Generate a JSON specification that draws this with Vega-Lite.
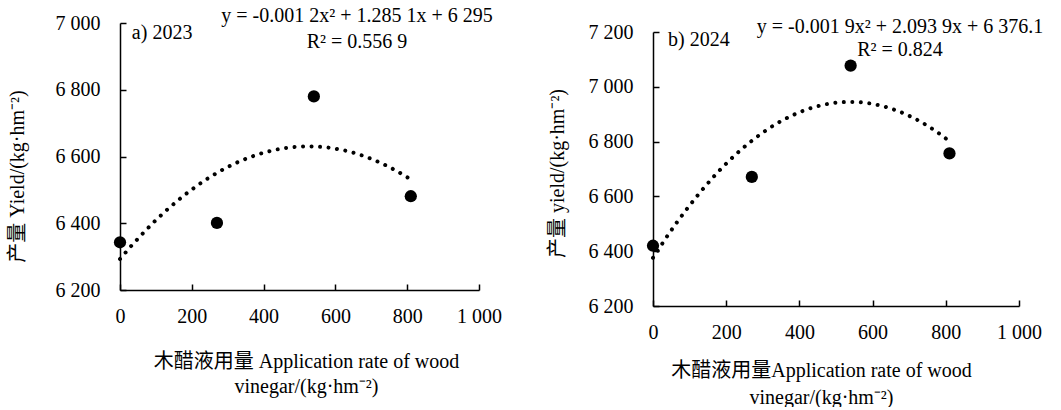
{
  "$schema": "https://vega.github.io/schema/vega-lite/v6.json",
  "background": "white",
  "padding": {"left": 7, "top": 5, "right": 0, "bottom": 0},
  "datasets": {
    "y2023": [
      {"rate": 0, "yield": 6343},
      {"rate": 270, "yield": 6401},
      {"rate": 540, "yield": 6780},
      {"rate": 810, "yield": 6481}
    ],
    "y2024": [
      {"rate": 0, "yield": 6420},
      {"rate": 270, "yield": 6671},
      {"rate": 540, "yield": 7077},
      {"rate": 810, "yield": 6757}
    ],
    "panelA": [{"label": "a) 2023"}],
    "eqA": [{"label": "y = -0.001 2x² + 1.285 1x + 6 295"}],
    "r2A": [{"label": "R² = 0.556 9"}],
    "panelB": [{"label": "b) 2024"}],
    "eqB": [{"label": "y = -0.001 9x² + 2.093 9x + 6 376.1"}],
    "r2B": [{"label": "R² = 0.824"}]
  },
  "config": {
    "view": {"stroke": null},
    "font": "Liberation Serif",
    "axis": {
      "grid": false,
      "domainColor": "black",
      "domainWidth": 1.5,
      "tickColor": "black",
      "tickWidth": 1.5,
      "tickSize": -6,
      "labelFlush": false,
      "labelFont": "Liberation Serif",
      "labelFontSize": 20,
      "labelColor": "black",
      "titleFont": "Liberation Serif, Noto Sans CJK SC",
      "titleFontSize": 20,
      "titleFontWeight": "normal",
      "titleColor": "black"
    }
  },
  "spacing": 45,
  "hconcat": [
    {
      "width": 359,
      "height": 267,
      "layer": [
        {
          "data": {"name": "y2023"},
          "transform": [{"regression": "yield", "on": "rate", "method": "poly", "order": 2, "extent": [0, 810]}],
          "mark": {"type": "line", "color": "black", "strokeWidth": 4, "strokeDash": [0.01, 8.5], "strokeCap": "round"},
          "encoding": {
            "x": {
              "field": "rate", "type": "quantitative",
              "scale": {"domain": [0, 1000], "nice": false, "zero": false},
              "axis": {
                "values": [0, 200, 400, 600, 800, 1000],
                "labelExpr": "replace(format(datum.value, ','), ',', ' ')",
                "labelPadding": 22,
                "title": ["木醋液用量  Application rate of wood", "vinegar/(kg·hm⁻²)"],
                "titlePadding": 25,
                "titleLineHeight": 25,
                "titleX": 186
              }
            },
            "y": {
              "field": "yield", "type": "quantitative",
              "scale": {"domain": [6200, 7000], "nice": false, "zero": false},
              "axis": {
                "values": [6200, 6400, 6600, 6800, 7000],
                "labelExpr": "replace(format(datum.value, ','), ',', ' ')",
                "labelPadding": 26,
                "title": "产量  Yield/(kg·hm⁻²)",
                "titlePadding": 28,
                "titleY": 153
              }
            }
          }
        },
        {
          "data": {"name": "y2023"},
          "mark": {"type": "circle", "size": 150, "color": "black", "opacity": 1},
          "encoding": {
            "x": {"field": "rate", "type": "quantitative"},
            "y": {"field": "yield", "type": "quantitative"}
          }
        },
        {
          "data": {"name": "panelA"},
          "mark": {"type": "text", "align": "left", "baseline": "middle", "font": "Liberation Serif", "fontSize": 20, "color": "black"},
          "encoding": {"x": {"datum": 33, "type": "quantitative"}, "y": {"datum": 6970, "type": "quantitative"}, "text": {"field": "label", "type": "nominal"}}
        },
        {
          "data": {"name": "eqA"},
          "mark": {"type": "text", "align": "center", "baseline": "middle", "font": "Liberation Serif", "fontSize": 20, "color": "black"},
          "encoding": {"x": {"datum": 660, "type": "quantitative"}, "y": {"datum": 7021, "type": "quantitative"}, "text": {"field": "label", "type": "nominal"}}
        },
        {
          "data": {"name": "r2A"},
          "mark": {"type": "text", "align": "center", "baseline": "middle", "font": "Liberation Serif", "fontSize": 20, "color": "black"},
          "encoding": {"x": {"datum": 660, "type": "quantitative"}, "y": {"datum": 6943, "type": "quantitative"}, "text": {"field": "label", "type": "nominal"}}
        }
      ]
    },
    {
      "width": 366,
      "height": 283,
      "layer": [
        {
          "data": {"name": "y2024"},
          "transform": [{"regression": "yield", "on": "rate", "method": "poly", "order": 2, "extent": [0, 810]}],
          "mark": {"type": "line", "color": "black", "strokeWidth": 4, "strokeDash": [0.01, 8.5], "strokeCap": "round"},
          "encoding": {
            "x": {
              "field": "rate", "type": "quantitative",
              "scale": {"domain": [0, 1000], "nice": false, "zero": false},
              "axis": {
                "values": [0, 200, 400, 600, 800, 1000],
                "labelExpr": "replace(format(datum.value, ','), ',', ' ')",
                "labelPadding": 22,
                "title": ["木醋液用量Application rate of wood", "vinegar/(kg·hm⁻²)"],
                "titlePadding": 18,
                "titleLineHeight": 27,
                "titleX": 168
              }
            },
            "y": {
              "field": "yield", "type": "quantitative",
              "scale": {"domain": [6200, 7200], "range": [283, 9], "nice": false, "zero": false},
              "axis": {
                "values": [6200, 6400, 6600, 6800, 7000, 7200],
                "labelExpr": "replace(format(datum.value, ','), ',', ' ')",
                "labelPadding": 26,
                "title": "产量 yield/(kg·hm⁻²)",
                "titlePadding": 21,
                "titleY": 150
              }
            }
          }
        },
        {
          "data": {"name": "y2024"},
          "mark": {"type": "circle", "size": 150, "color": "black", "opacity": 1},
          "encoding": {
            "x": {"field": "rate", "type": "quantitative"},
            "y": {"field": "yield", "type": "quantitative"}
          }
        },
        {
          "data": {"name": "panelB"},
          "mark": {"type": "text", "align": "left", "baseline": "middle", "font": "Liberation Serif", "fontSize": 20, "color": "black"},
          "encoding": {"x": {"datum": 41, "type": "quantitative"}, "y": {"datum": 7171, "type": "quantitative"}, "text": {"field": "label", "type": "nominal"}}
        },
        {
          "data": {"name": "eqB"},
          "mark": {"type": "text", "align": "center", "baseline": "middle", "font": "Liberation Serif", "fontSize": 20, "color": "black"},
          "encoding": {"x": {"datum": 675, "type": "quantitative"}, "y": {"datum": 7220, "type": "quantitative"}, "text": {"field": "label", "type": "nominal"}}
        },
        {
          "data": {"name": "r2B"},
          "mark": {"type": "text", "align": "center", "baseline": "middle", "font": "Liberation Serif", "fontSize": 20, "color": "black"},
          "encoding": {"x": {"datum": 675, "type": "quantitative"}, "y": {"datum": 7134, "type": "quantitative"}, "text": {"field": "label", "type": "nominal"}}
        }
      ]
    }
  ]
}
